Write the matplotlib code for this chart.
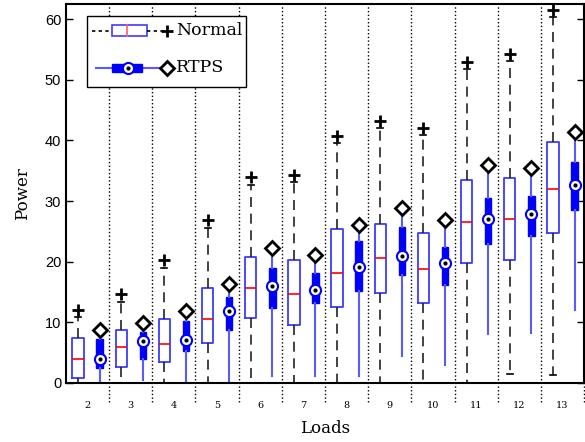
import matplotlib
matplotlib.use("Agg")
import matplotlib.pyplot as plt
from matplotlib.patches import Rectangle
from matplotlib.lines import Line2D

loads = [2, 3, 4, 5, 6, 7, 8, 9, 10, 11, 12, 13]

# Normal
n_lo = [0, 0, 0, 0, 0, 0, 0, 0, 0, 0, 1.5, 1.4]
n_q1 = [0.9, 2.6, 3.5, 6.6, 10.7, 9.6, 12.6, 14.9, 13.2, 19.8, 20.2, 24.7]
n_med = [4.0, 6.0, 6.5, 10.6, 15.6, 14.7, 18.2, 20.6, 18.8, 26.6, 27.0, 32.0]
n_q3 = [7.4, 8.7, 10.5, 15.7, 20.7, 20.3, 25.4, 26.3, 24.7, 33.5, 33.8, 39.7]
n_hi = [10.8, 13.4, 19.0, 25.5, 32.7, 33.1, 39.6, 42.0, 40.9, 51.8, 53.1, 60.3]
n_out = [12.0, 14.6, 20.2, 26.8, 33.9, 34.3, 40.8, 43.2, 42.1, 53.0, 54.3, 61.5]

# RTPS
r_lo = [0, 0.5, 0, 0, 1.1, 1.1, 1.1, 4.4, 3.0, 8.0, 8.2, 12.1]
r_q1 = [2.5, 4.0, 5.3, 8.7, 12.4, 13.2, 15.2, 17.8, 16.2, 23.0, 24.3, 28.5]
r_med = [4.0, 6.9, 7.1, 11.8, 16.0, 15.4, 19.1, 20.9, 19.8, 27.1, 27.9, 32.6]
r_q3 = [7.3, 8.4, 10.2, 14.2, 19.0, 18.2, 23.4, 25.8, 22.4, 30.5, 30.9, 36.4]
r_hi = [7.7, 8.9, 10.8, 15.3, 21.3, 20.1, 25.0, 27.7, 25.7, 34.9, 34.3, 40.4]
r_out = [8.7, 9.9, 11.8, 16.3, 22.3, 21.1, 26.0, 28.8, 26.8, 35.9, 35.4, 41.4]

BLUE = '#3c3cff'
WBLUE = '#5a5aff'

fig = plt.figure(figsize=(5.85, 4.42), dpi=100)
ax = fig.add_axes([0.1128, 0.1335, 0.8855, 0.8575])

n_stats = [dict(whislo=a, q1=b, med=c, q3=d, whishi=e, fliers=[])
           for a, b, c, d, e in zip(n_lo, n_q1, n_med, n_q3, n_hi)]
r_stats = [dict(whislo=a, q1=b, med=c, q3=d, whishi=e, fliers=[])
           for a, b, c, d, e in zip(r_lo, r_q1, r_med, r_q3, r_hi)]

n_pos = [x - 0.22 for x in loads]
r_pos = [x + 0.28 for x in loads]

ax.bxp(n_stats, positions=n_pos, widths=0.26, showfliers=False,
       boxprops=dict(color=BLUE, linewidth=1.3),
       whiskerprops=dict(color='#222222', linewidth=1.2, linestyle=(0, (6, 4))),
       capprops=dict(color='black', linewidth=1.2),
       capwidths=0.14,
       medianprops=dict(color='red', linewidth=1.2))

ax.bxp(r_stats, positions=r_pos, widths=0.15, showfliers=False, showcaps=False,
       patch_artist=True,
       boxprops=dict(facecolor='#0000ff', edgecolor='#0000ff', linewidth=1),
       whiskerprops=dict(color=WBLUE, linewidth=1.5),
       medianprops=dict(linewidth=0))

ax.plot(r_pos, r_med, 'o', ms=8, mfc='white', mec='#0000ff', mew=1.5, zorder=5)
ax.plot(r_pos, r_med, '.', ms=4, color='black', zorder=6)
ax.plot(n_pos, n_out, '+', ms=9, mew=2, color='black', zorder=5)
ax.plot(r_pos, r_out, 'D', ms=7, mfc='white', mec='black', mew=2, zorder=5)

# group separators
for x in loads:
    ax.plot([x + 0.5, x + 0.5], [-3.2, 62.5], ':', color='black', lw=1,
            clip_on=False, zorder=1)

ax.set_xlim(1.5, 13.5)
ax.set_ylim(0, 62.5)
ax.set_xticks(loads)
ax.set_xticklabels([str(x) for x in loads], family='DejaVu Serif', fontsize=7)
ax.tick_params(axis='x', length=0, pad=13)
ax.set_yticks([0, 10, 20, 30, 40, 50, 60])
ax.tick_params(axis='y', direction='in', right=True, length=5, labelsize=10.5,
               width=1)
for lab in ax.get_yticklabels():
    lab.set_family('Liberation Sans')
for s in ax.spines.values():
    s.set_linewidth(1.5)

ax.set_xlabel('Loads', family='DejaVu Serif', fontsize=12, labelpad=7)
ax.set_ylabel('Power', family='DejaVu Serif', fontsize=12, labelpad=10)

# legend drawn by hand in axes fraction
def fx(px):
    return (px - 66) / 518.0

def fy(py):
    return (383 - py) / 379.0

t = ax.transAxes
ax.add_patch(Rectangle((fx(87), fy(87)), fx(246) - fx(87), fy(16) - fy(87),
                       transform=t, facecolor='white', edgecolor='black',
                       lw=1, zorder=10))
ax.add_line(Line2D([fx(92), fx(112)], [fy(31), fy(31)], transform=t, color='black',
                   lw=1.2, ls=(0, (2, 2)), zorder=11))
ax.add_patch(Rectangle((fx(112), fy(36)), fx(147) - fx(112), fy(25) - fy(36),
                       transform=t, facecolor='white', edgecolor=BLUE, lw=1.2, zorder=11))
ax.add_line(Line2D([fx(127), fx(127)], [fy(36), fy(25)], transform=t, color='#ff6060',
                   lw=1.2, zorder=12))
ax.add_line(Line2D([fx(147), fx(166)], [fy(31), fy(31)], transform=t, color='black',
                   lw=1.2, ls=(0, (2, 2)), zorder=11))
ax.add_line(Line2D([fx(167)], [fy(31)], transform=t, marker='+', ms=9, mew=2,
                   color='black', zorder=12))
ax.text(fx(176), fy(31), 'Normal', transform=t, family='DejaVu Serif', fontsize=12.5,
        va='center', ha='left', zorder=12)

ax.add_line(Line2D([fx(96), fx(166)], [fy(68), fy(68)], transform=t, color=WBLUE,
                   lw=1.5, zorder=11))
ax.add_patch(Rectangle((fx(112), fy(72)), fx(142) - fx(112), fy(64) - fy(72),
                       transform=t, facecolor='#0000ff', edgecolor='#0000ff', lw=1,
                       zorder=12))
ax.add_line(Line2D([fx(128)], [fy(68)], transform=t, marker='o', ms=8, mfc='white',
                   mec='#0000ff', mew=1.5, zorder=13))
ax.add_line(Line2D([fx(128)], [fy(68)], transform=t, marker='.', ms=4, color='black',
                   zorder=14))
ax.add_line(Line2D([fx(167)], [fy(68)], transform=t, marker='D', ms=7, mfc='white',
                   mec='black', mew=2, zorder=13))
ax.text(fx(176), fy(68), 'RTPS', transform=t, family='DejaVu Serif', fontsize=12.5,
        va='center', ha='left', zorder=12)

fig.savefig('out.png', dpi=100)
